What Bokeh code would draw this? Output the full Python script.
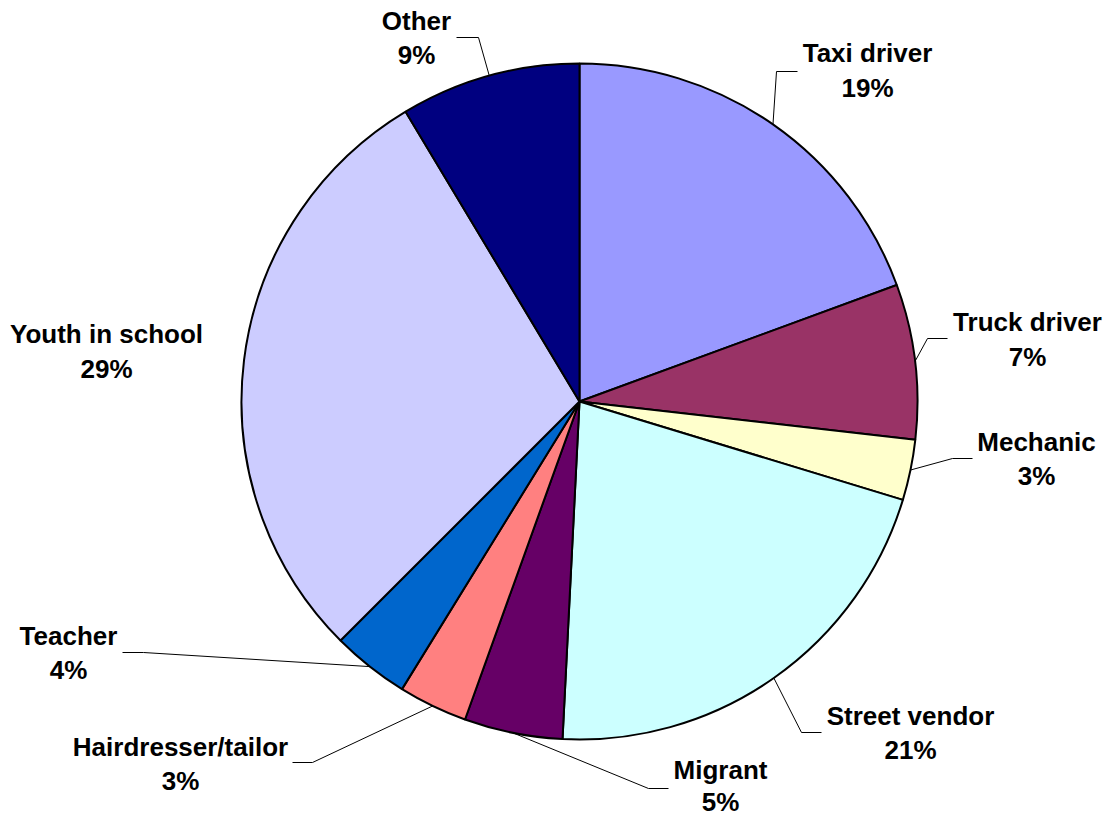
import math
from bokeh.plotting import figure
from bokeh.models import Range1d, ColumnDataSource
from bokeh.core.properties import value
from bokeh.embed import file_html
from bokeh.resources import INLINE

# ---- data ----
categories = ["Taxi driver", "Truck driver", "Mechanic", "Street vendor", "Migrant",
              "Hairdresser/tailor", "Teacher", "Youth in school", "Other"]
shares = [19.4, 7.4, 2.9, 21.1, 4.7, 3.3, 3.7, 28.9, 8.6]
colors = ["#9999FF", "#993366", "#FFFFCC", "#CCFFFF", "#660066",
          "#FF8080", "#0066CC", "#CCCCFF", "#000080"]

# ---- layout (image pixel coordinates, y downward) ----
W, H = 1105, 817
CX, CY, R = 579, 401, 338
# label centre (name line y, percent line y)
label_x = [867, 1027, 1036, 910, 720, 180, 68, 106, 416]
label_y1 = [52, 321, 441, 715, 769, 746, 635, 333, 20]
label_y2 = [87, 356, 475, 749, 801, 780, 669, 368, 54]
# leader elbows and ends (None = no leader)
leader_elbow = [(776, 71), (927, 338), (952, 458), (801, 732), (648, 788),
                (312, 762), (143, 652), None, (478, 37)]
leader_end = [(797, 71), (947, 338), (972, 458), (821, 732), (668, 788),
              (292, 762), (122, 652), None, (456, 37)]

def fy(y):
    return H - y

total = sum(shares)
starts, ends, mids = [], [], []
cum = 0.0
for s in shares:
    a0 = cum / total * 2 * math.pi
    cum += s
    a1 = cum / total * 2 * math.pi
    # clockwise from 12 o'clock -> bokeh angles (ccw from +x)
    starts.append(math.pi / 2 - a1)
    ends.append(math.pi / 2 - a0)
    mids.append((a0 + a1) / 2)

p = figure(width=W, height=H, output_backend="svg", toolbar_location=None,
           x_range=Range1d(0, W), y_range=Range1d(0, H),
           x_axis_type=None, y_axis_type=None, min_border=0,
           outline_line_color=None, background_fill_color="white",
           border_fill_color="white")
p.grid.visible = False

src = ColumnDataSource(dict(start=starts, end=ends, color=colors, cat=categories))
p.wedge(x=CX, y=fy(CY), radius=R, start_angle="start", end_angle="end",
        direction="anticlock", fill_color="color", line_color="black",
        line_width=2, source=src)

# leader lines
xs, ys = [], []
for m, el, en in zip(mids, leader_elbow, leader_end):
    if el is None:
        continue
    ax = CX + R * math.sin(m)
    ay = CY - R * math.cos(m)
    xs.append([ax, el[0], en[0]])
    ys.append([fy(ay), fy(el[1]), fy(en[1])])
p.multi_line(xs=xs, ys=ys, line_color="black", line_width=1)

pct = [f"{round(s)}%" for s in shares]
font = value("Liberation Sans")
p.text(x=label_x, y=[fy(v) for v in label_y1], text=categories,
       text_font=font, text_font_size="26px", text_font_style="bold",
       text_align="center", text_baseline="middle", text_color="black")
p.text(x=label_x, y=[fy(v) for v in label_y2], text=pct,
       text_font=font, text_font_size="26px", text_font_style="bold",
       text_align="center", text_baseline="middle", text_color="black")

open("out.html", "w").write(file_html(p, INLINE))
